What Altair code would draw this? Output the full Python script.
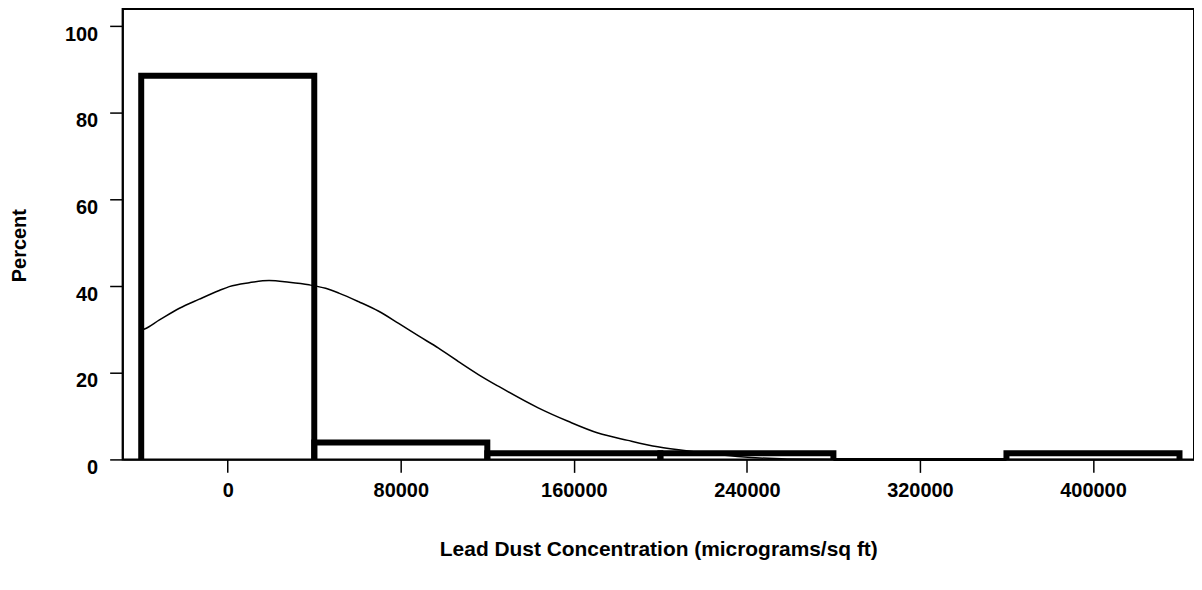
import altair as alt
import pandas as pd

# Histogram bins (midpoints), bin width and percents
bin_mids = [0, 80000, 160000, 240000, 320000, 400000]
bin_width = 80000
percents = [88.6, 3.9, 1.4, 1.4, 0.0, 1.4]

# Fitted normal curve
curve_x = [-40000, -38470, -31560, -22340, -13130, -3920, 690, 9900, 19120, 28330,
           37550, 45240, 51370, 60580, 69800, 79010, 88220, 97440, 106650, 115870,
           125080, 143510, 157330, 171150, 184970, 198790, 217220, 235650,
           258690, 300000, 440000]
curve_y = [29.8, 30.1, 32.2, 34.9, 37.0, 39.0, 39.9, 40.8, 41.3, 40.9,
           40.3, 39.5, 38.4, 36.4, 34.2, 31.4, 28.5, 25.7, 22.6, 19.6,
           16.9, 11.9, 8.8, 6.1, 4.4, 2.9, 1.7, 0.7,
           0.1, 0.0, 0.0]

x_ticks = [0, 80000, 160000, 240000, 320000, 400000]
y_ticks = [0, 20, 40, 60, 80, 100]

# outline path of each bar: left edge up, top across, right edge down
rows = []
for i, (m, p) in enumerate(zip(bin_mids, percents)):
    lo, hi = m - bin_width / 2, m + bin_width / 2
    sw = 6 if p > 0 else 3
    for k, (xx, yy) in enumerate([(lo, 0), (lo, p), (hi, p), (hi, 0)]):
        rows.append({"bar": i, "order": k, "x": xx, "y": yy, "sw": sw})
bars_df = pd.DataFrame(rows)
curve_df = pd.DataFrame({"x": curve_x, "y": curve_y, "order": list(range(len(curve_x)))})

FONT = "Liberation Sans"

x_enc = alt.X("x:Q",
              scale=alt.Scale(domain=[-48600, 446700], nice=False, zero=False),
              axis=alt.Axis(values=x_ticks, format="d",
                            title="Lead Dust Concentration (micrograms/sq ft)",
                            titleFontSize=21,
                            labelPadding=8, titlePadding=38))
y_enc = alt.Y("y:Q",
              scale=alt.Scale(domain=[0, 104], nice=False),
              axis=alt.Axis(values=y_ticks, format="d", title="Percent",
                            labelPadding=12, labelOffset=8,
                            titleX=-103, titleY=237, titleAngle=270,
                            titleAlign="center", titleBaseline="middle"))

bars = alt.Chart(bars_df).mark_line(
    color="black", strokeCap="butt", strokeJoin="miter"
).encode(x=x_enc, y=y_enc, detail="bar:N", order="order:Q",
         strokeWidth=alt.StrokeWidth("sw:Q", scale=None, legend=None))

curve = alt.Chart(curve_df).mark_line(
    color="black", strokeWidth=1.5, interpolate="monotone"
).encode(x=x_enc, y=y_enc, order="order:Q")

chart = alt.layer(bars, curve).properties(
    width=1075, height=452,
    autosize=alt.AutoSizeParams(type="none"),
    padding={"left": 115, "top": 0, "right": 0, "bottom": 106},
).configure_view(
    stroke="black", strokeWidth=2
).configure_axis(
    grid=False,
    domainColor="black", domainWidth=1.5,
    tickColor="black", tickWidth=1.5, tickSize=13,
    labelFont=FONT, labelFontSize=20, labelFontWeight="bold", labelColor="black",
    titleFont=FONT, titleFontSize=20, titleFontWeight="bold", titleColor="black",
)

chart.save("out.html", embed_options={"renderer": "svg", "actions": False})
